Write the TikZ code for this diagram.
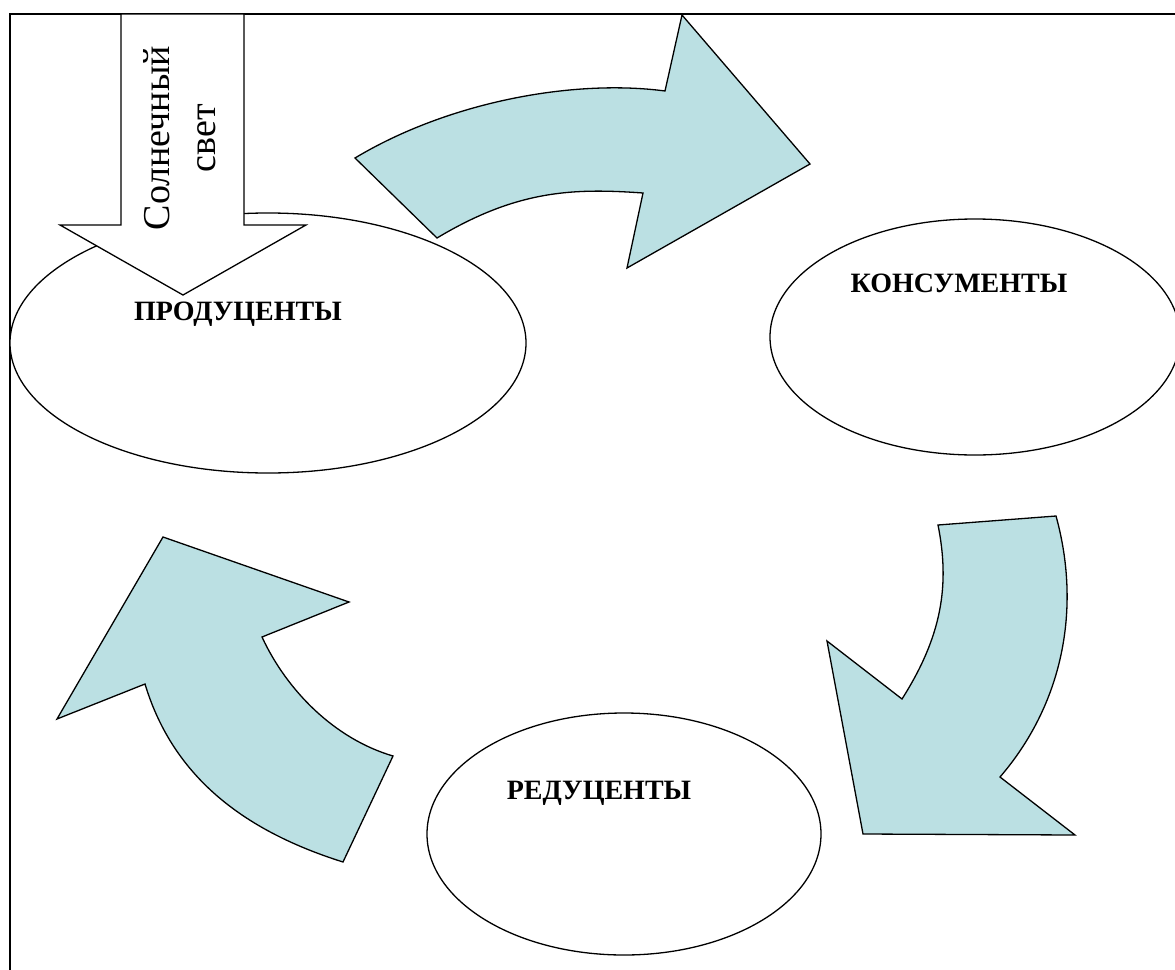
\documentclass[tikz,border=0pt]{standalone}
\usepackage{fontspec}
\setmainfont{Liberation Serif}
\usetikzlibrary{shapes.geometric}
\definecolor{flowblue}{RGB}{187,224,227}

\begin{document}
\begin{tikzpicture}[x=1pt, y=-1pt, line width=1.3pt,
  cell/.style={draw, ellipse, inner sep=0pt, fill=white},
  flow/.style={draw, fill=flowblue, line join=miter},
  lbl/.style={font=\fontsize{28}{34}\selectfont\bfseries}]
  \useasboundingbox (0,0) rectangle (1175,969);
  \clip (0,0) rectangle (1175,969);
  \draw (10,14) rectangle (1200,1000);

  % the three groups
  \node[cell, minimum width=516pt, minimum height=260pt] (prod) at (268,343) {};
  \node[cell, minimum width=410pt, minimum height=236pt] (kons) at (975,337) {};
  \node[cell, minimum width=394pt, minimum height=242pt] (red) at (624,834) {};
  \node[lbl] (prodname) at (238,314) {ПРОДУЦЕНТЫ};
  \node[lbl] (konsname) at (959,283) {КОНСУМЕНТЫ};
  \node[lbl] (redname) at (599,793) {РЕДУЦЕНТЫ};

  % sunlight
  \draw[fill=white] (121,14) -- (121,225) -- (60,225) -- (183,295)
    -- (306,225) -- (244,225) -- (244,14) -- cycle;
  \node[rotate=90, align=center, font=\fontsize{38}{46}\selectfont] (sun) at (180,138) {Солнечный\\свет};

  % cycle arrows
  \draw[flow] (355,158) .. controls (450,101) and (575,79) .. (665,91)
    -- (682,15) -- (810,164) -- (627,268) -- (643,193)
    .. controls (573,188) and (517,190) .. (437,238) -- cycle;
  \draw[flow] (938,525) -- (1056,516) .. controls (1082,610) and (1062,705) .. (1000,777)
    -- (1075,835) -- (863,834) -- (827,641) -- (902,699)
    .. controls (942,636) and (950,585) .. (938,525) -- cycle;
  \draw[flow] (163,537) -- (349,602) -- (262,637)
    .. controls (287,691) and (335,739) .. (393,756) -- (343,862)
    .. controls (248,832) and (174,780) .. (145,684) -- (57,719) -- cycle;
\end{tikzpicture}
\end{document}
